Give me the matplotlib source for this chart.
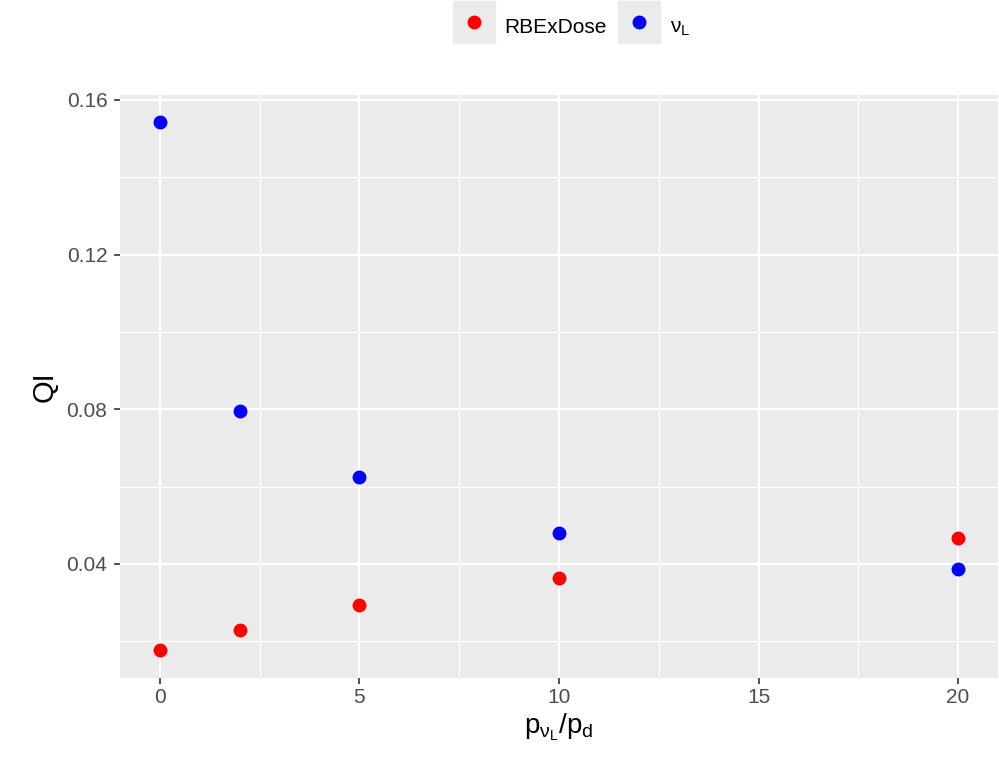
import matplotlib
matplotlib.use("Agg")
import matplotlib.pyplot as plt
from matplotlib.lines import Line2D
from matplotlib.legend_handler import HandlerTuple
from matplotlib.ticker import MultipleLocator

plt.rcParams['font.family'] = ['Liberation Sans', 'DejaVu Sans']
plt.rcParams['mathtext.fontset'] = 'custom'
plt.rcParams['mathtext.rm'] = 'Liberation Sans'
plt.rcParams['mathtext.it'] = 'Liberation Sans'

# данные
ratio = [0, 2, 5, 10, 20]
qi_rbe = [0.0178, 0.0229, 0.0294, 0.0364, 0.0467]
qi_nu = [0.1543, 0.0795, 0.0624, 0.0480, 0.0387]
series_labels = ["RBExDose", r"$\nu_\mathregular{L}$"]
series_colors = ["#FF0000", "#0000FF"]
y_ticks = [0.04, 0.08, 0.12, 0.16]
x_ticks = [0, 5, 10, 15, 20]

fig = plt.figure(figsize=(9.99, 7.64), dpi=100)
ax = fig.add_axes([0.120, 0.1126, 0.879, 0.7631])
ax.set_facecolor("#EBEBEB")

ax.plot(ratio, qi_rbe, 'o', color=series_colors[0], markersize=9, zorder=3)
ax.plot(ratio, qi_nu, 'o', color=series_colors[1], markersize=9, zorder=3)

ax.set_xlim(-1.0, 21.0)
ax.set_ylim(0.0105, 0.1613)
ax.set_xticks(x_ticks)
ax.set_yticks(y_ticks)
ax.set_yticklabels([f"{v:.2f}" for v in y_ticks])
ax.xaxis.set_minor_locator(MultipleLocator(2.5))
ax.yaxis.set_minor_locator(MultipleLocator(0.02))

# сетка как в ggplot
ax.grid(True, which='major', color='white', linewidth=1.6)
ax.grid(True, which='minor', color='white', linewidth=0.8)
ax.set_axisbelow(True)
for s in ax.spines.values():
    s.set_visible(False)
ax.tick_params(which='major', colors='#333333', labelcolor='#4D4D4D',
               labelsize=15, length=4, width=1.2)
ax.tick_params(axis='y', which='major', pad=5)
ax.tick_params(which='minor', length=0)

ax.set_ylabel("QI", fontsize=21, color='black', labelpad=6)
ax.set_xlabel(r"$\mathregular{p_{\nu_L}/p_d}$", fontsize=20, color='black', labelpad=3)

# ключи легенды: серый квадрат + точка по центру
handles = [(Line2D([], [], marker='s', color='#EBEBEB', linestyle='', markersize=30),
            Line2D([], [], marker='o', color=c, linestyle='', markersize=9))
           for c in series_colors]
fig.legend(handles, series_labels, handler_map={tuple: HandlerTuple(ndivide=1, pad=0)},
           loc='center', bbox_to_anchor=(0.571, 0.966), ncol=2, frameon=False,
           fontsize=15, handlelength=2.16, handleheight=1.9, handletextpad=0.4,
           columnspacing=0.45)

fig.savefig("out.png", dpi=100)
